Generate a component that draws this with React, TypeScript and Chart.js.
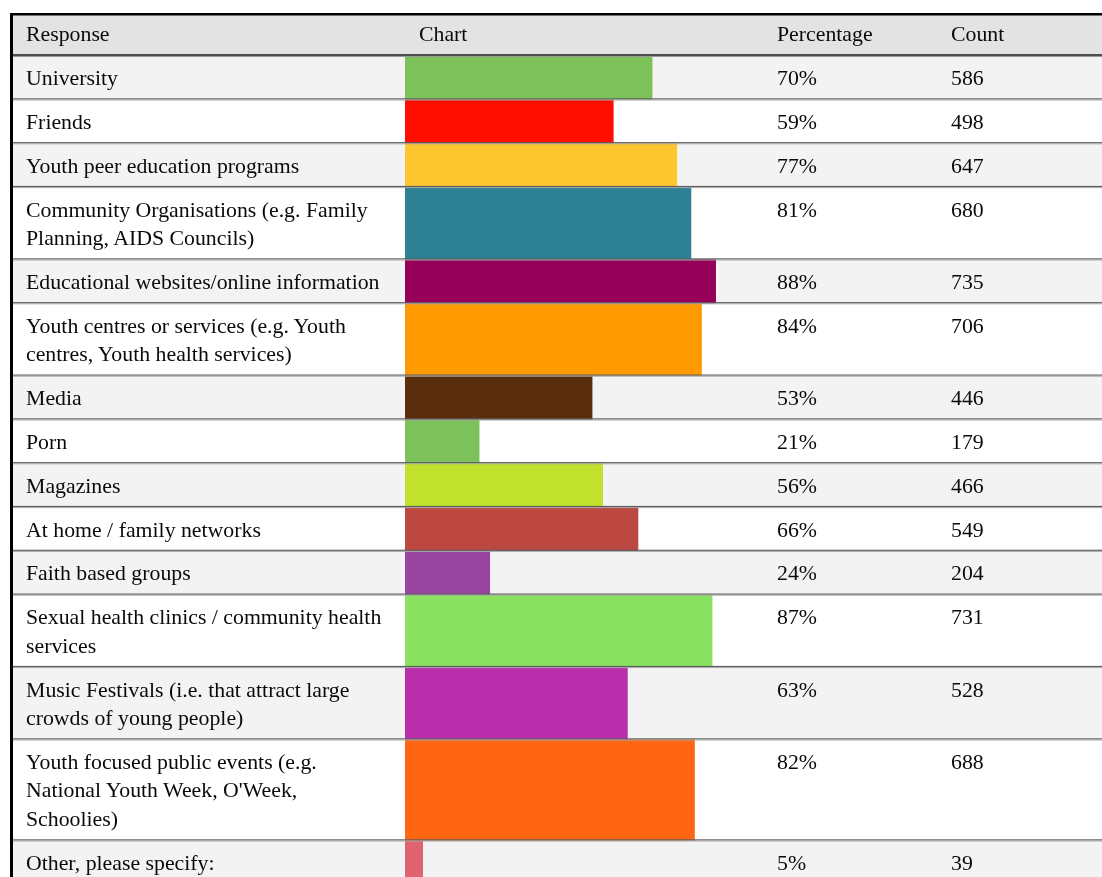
import React, { useEffect, useRef } from "react";
import { Chart, registerables } from "chart.js";

Chart.register(...registerables);

// ---- Data ----
const HEADERS = ["Response", "Chart", "Percentage", "Count"];

const RESPONSES: string[][] = [
  ["University"],
  ["Friends"],
  ["Youth peer education programs"],
  ["Community Organisations (e.g. Family", "Planning, AIDS Councils)"],
  ["Educational websites/online information"],
  ["Youth centres or services (e.g. Youth", "centres, Youth health services)"],
  ["Media"],
  ["Porn"],
  ["Magazines"],
  ["At home / family networks"],
  ["Faith based groups"],
  ["Sexual health clinics / community health", "services"],
  ["Music Festivals (i.e. that attract large", "crowds of young people)"],
  ["Youth focused public events (e.g.", "National Youth Week, O'Week,", "Schoolies)"],
  ["Other, please specify:"],
];

const PERCENTAGES = [70, 59, 77, 81, 88, 84, 53, 21, 56, 66, 24, 87, 63, 82, 5];
const COUNTS = [586, 498, 647, 680, 735, 706, 446, 179, 466, 549, 204, 731, 528, 688, 39];

const BAR_COLORS = [
  "#7dc15a",
  "#ff0d00",
  "#fec62e",
  "#2e8194",
  "#960059",
  "#ff9a00",
  "#5a2d0c",
  "#7dc15a",
  "#c2e12c",
  "#bc4841",
  "#98459f",
  "#8be160",
  "#bb2eab",
  "#ff6614",
  "#e06370",
];

// ---- Layout ----
const W = 1102;
const H = 877;
const TABLE_LEFT = 10;
const TABLE_TOP = 13;
const HEADER_LINE_Y = 55.5;
const ROW_PAD = 15.2;
const LINE_H = 28.6;
const CHART_LEFT = 405;
const CHART_WIDTH = 353;
const COL_X = [26, 419, 777, 951];
const FONT = '"Liberation Serif", "Times New Roman", serif';
const FONT_SIZE = 21.8;
const TEXT_OFFSET = 8.6;
const HEADER_TEXT_TOP = 20;

const rowHeights = RESPONSES.map((l) => ROW_PAD + LINE_H * l.length);
const rowTops: number[] = [];
{
  let y = HEADER_LINE_Y;
  for (const h of rowHeights) {
    rowTops.push(y);
    y += h;
  }
}

const tablePlugin = {
  id: "tableGrid",
  beforeDatasetsDraw(chart: any) {
    const ctx = chart.ctx;
    ctx.save();
    ctx.fillStyle = "#e3e3e3";
    ctx.fillRect(TABLE_LEFT, TABLE_TOP, W - TABLE_LEFT, HEADER_LINE_Y - TABLE_TOP);
    rowTops.forEach((t, i) => {
      if (i % 2 === 0) {
        ctx.fillStyle = "#f3f3f3";
        ctx.fillRect(TABLE_LEFT, t, W - TABLE_LEFT, rowHeights[i]);
      }
    });
    ctx.restore();
  },
  afterDatasetsDraw(chart: any) {
    const ctx = chart.ctx;
    ctx.save();
    // header separator
    ctx.fillStyle = "#4f4f4f";
    ctx.fillRect(TABLE_LEFT, HEADER_LINE_Y - 1.5, W - TABLE_LEFT, 2);
    ctx.fillStyle = "#9a9a9a";
    ctx.fillRect(TABLE_LEFT, HEADER_LINE_Y + 0.5, W - TABLE_LEFT, 1);
    // row separators
    rowTops.forEach((t, i) => {
      const b = t + rowHeights[i];
      ctx.fillStyle = "#5e5e5e";
      ctx.fillRect(TABLE_LEFT, b - 1, W - TABLE_LEFT, 1.2);
      ctx.fillStyle = "#a8a8a8";
      ctx.fillRect(TABLE_LEFT, b + 0.2, W - TABLE_LEFT, 1);
    });
    // outer borders
    ctx.fillStyle = "#000000";
    ctx.fillRect(TABLE_LEFT, TABLE_TOP, W - TABLE_LEFT, 2.5);
    ctx.fillRect(TABLE_LEFT, TABLE_TOP, 3, H - TABLE_TOP);
    ctx.restore();
  },
};

export default function App() {
  const canvasRef = useRef<HTMLCanvasElement | null>(null);

  useEffect(() => {
    const canvas = canvasRef.current;
    if (!canvas) return;
    const datasets = PERCENTAGES.map((p, i) => ({
      label: RESPONSES[i].join(" "),
      data: [{ x: p, y: rowTops[i] + rowHeights[i] / 2 }],
      backgroundColor: BAR_COLORS[i],
      borderWidth: 0,
      barThickness: rowHeights[i],
      stack: "rows",
    }));
    const chart = new Chart(canvas, {
      type: "bar",
      data: { datasets },
      options: {
        indexAxis: "y",
        responsive: false,
        animation: false,
        events: [],
        layout: {
          padding: { left: CHART_LEFT, right: W - CHART_LEFT - CHART_WIDTH, top: 0, bottom: 0 },
        },
        scales: {
          x: { type: "linear", min: 0, max: 100, display: false, stacked: false, offset: false, grace: 0 },
          y: {
            type: "linear",
            min: 0,
            max: H,
            reverse: true,
            display: false,
            stacked: true,
            offset: false,
            grace: 0,
          },
        },
        plugins: {
          legend: { display: false },
          tooltip: { enabled: false },
        },
      },
      plugins: [tablePlugin],
    } as any);
    return () => chart.destroy();
  }, []);

  const textStyle = (left: number, top: number): React.CSSProperties => ({
    position: "absolute",
    left,
    top,
    fontFamily: FONT,
    fontSize: FONT_SIZE,
    lineHeight: `${LINE_H}px`,
    color: "#0a0a0a",
    whiteSpace: "nowrap",
  });

  return (
    <div
      style={{
        position: "fixed",
        left: 0,
        top: 0,
        width: W,
        height: H,
        overflow: "hidden",
        background: "#fff",
      }}
    >
      <canvas
        ref={canvasRef}
        width={W}
        height={H}
        style={{ position: "absolute", left: 0, top: 0, width: W, height: H, display: "block" }}
      />
      {HEADERS.map((h, c) => (
        <div key={"h" + c} style={textStyle(COL_X[c], HEADER_TEXT_TOP)}>
          {h}
        </div>
      ))}
      {RESPONSES.map((lines, i) => (
        <React.Fragment key={"r" + i}>
          <div style={textStyle(COL_X[0], rowTops[i] + TEXT_OFFSET)}>
            {lines.map((l, j) => (
              <div key={j}>{l}</div>
            ))}
          </div>
          <div style={textStyle(COL_X[2], rowTops[i] + TEXT_OFFSET)}>{PERCENTAGES[i]}%</div>
          <div style={textStyle(COL_X[3], rowTops[i] + TEXT_OFFSET)}>{COUNTS[i]}</div>
        </React.Fragment>
      ))}
    </div>
  );
}
